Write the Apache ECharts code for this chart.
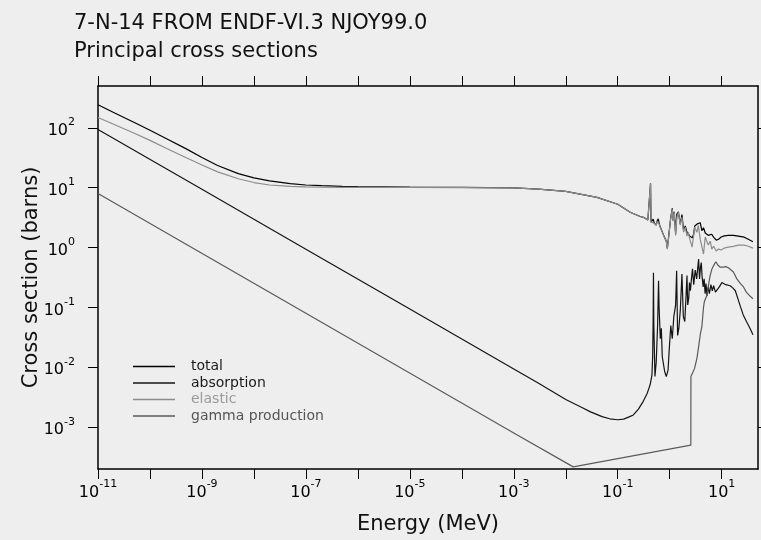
<!DOCTYPE html>
<html>
<head>
<meta charset="utf-8">
<title>7-N-14 principal cross sections</title>
<script src="https://cdn.jsdelivr.net/npm/echarts@6/dist/echarts.min.js"></script>
<style>
  html, body { margin: 0; padding: 0; background: #eeeeee; }
  #chart { width: 761px; height: 540px; }
</style>
</head>
<body>
<div id="chart"></div>
<script>
// ---- Cross-section data (energies in MeV, cross sections in barns) ----

// Shared energy grid for total and elastic
const scatterEnergy = [
  1e-11, 2e-11, 5e-11, 1e-10, 2e-10, 5e-10, 1e-9, 2e-9, 5e-9, 1e-8,
  2e-8, 5e-8, 1e-7, 2e-7, 5e-7, 1e-6, 1e-5, 1e-4, 1e-3, 3e-3,
  1e-2, 0.04, 0.1, 0.174, 0.27, 0.31, 0.38, 0.415, 0.428, 0.437,
  0.461, 0.482, 0.503, 0.551, 0.575, 0.602, 0.629, 0.658, 0.719, 0.786,
  0.859, 0.9, 0.96, 1.04, 1.12, 1.17, 1.224, 1.30, 1.37, 1.47,
  1.597, 1.72, 1.85, 1.99, 2.15, 2.276, 2.43, 2.7, 2.89, 3.03,
  3.34, 3.55, 3.87, 4.16, 4.47, 4.83, 5.2, 5.52, 6.03, 6.45,
  6.98, 7.87, 8.71, 9.8, 11.2, 13.4, 16.8, 20.9, 27.2, 32.5,
  40
];
const totalXS = [
  243, 181, 123, 91, 67, 44.5, 32, 23.5, 17.2, 14.6,
  13.0, 11.7, 11.1, 10.8, 10.5, 10.4, 10.2, 10.1, 9.9, 9.5,
  8.7, 6.9, 5.3, 3.9, 3.3, 3.2, 2.9, 2.8, 11.8, 2.66,
  2.77, 2.98, 2.57, 2.37, 2.8, 3.03, 2.5, 2.22, 1.83, 1.51,
  1.29, 0.97, 1.6, 3.02, 4.53, 2.8, 3.95, 1.7, 3.62, 3.95,
  2.45, 3.57, 1.95, 2.3, 1.81, 1.95, 1.57, 1.45, 1.67, 2.3,
  2.46, 2.6, 2.6, 1.91, 2.15, 1.75, 1.81, 1.6, 1.57, 1.67,
  1.49, 1.33, 1.38, 1.5, 1.57, 1.6, 1.6, 1.55, 1.49, 1.38,
  1.25
];
const elasticXS = [
  149, 115, 81, 61.7, 46.2, 31.6, 24.0, 18.4, 14.1, 12.2,
  11.1, 10.5, 10.3, 10.2, 10.1, 10.1, 10.1, 10.0, 9.9, 9.5,
  8.7, 6.9, 5.3, 3.9, 3.3, 3.2, 2.9, 2.8, 11.8, 2.65,
  2.75, 2.6, 2.55, 2.36, 2.75, 2.75, 2.45, 2.19, 1.81, 1.5,
  1.28, 0.944, 1.55, 2.97, 4.36, 2.75, 3.89, 1.6, 3.21, 3.89,
  2.36, 3.21, 1.81, 2.19, 1.55, 1.81, 1.38, 1.02, 1.6, 2.19,
  1.81, 2.36, 1.38, 1.28, 0.78, 1.5, 1.55, 1.10, 1.28, 0.944,
  1.05, 0.875, 0.944, 0.91, 0.98, 1.02, 1.05, 1.10, 1.10, 1.05,
  0.98
];

const absorptionEnergy = [
  1e-11, 1e-9, 1e-7, 1e-5, 1e-3, 3e-3, 1e-2, 0.02, 0.03, 0.05,
  0.07, 0.1, 0.13, 0.17, 0.2, 0.25, 0.31, 0.37, 0.42, 0.455,
  0.47, 0.48, 0.487, 0.495, 0.52, 0.55, 0.585, 0.61, 0.625, 0.66,
  0.69, 0.72, 0.80, 0.86, 0.93, 0.98, 1.05, 1.12, 1.2, 1.3,
  1.36, 1.42, 1.5, 1.6, 1.72, 1.83, 1.95, 2.06, 2.15, 2.22,
  2.32, 2.4, 2.5, 2.62, 2.75, 2.9, 3.1, 3.3, 3.6, 3.75,
  3.9, 4.05, 4.2, 4.4, 4.6, 4.8, 5.0, 5.2, 5.5, 5.8,
  6.2, 6.6, 7.0, 7.6, 8.1, 9.0, 10.1, 12, 14.6, 16.5,
  18.3, 20.5, 22.8, 26, 30, 35, 40
];
const absorptionXS = [
  94, 9.4, 0.94, 0.094, 9.4e-3, 5.4e-3, 2.9e-3, 2.15e-3, 1.8e-3, 1.5e-3,
  1.38e-3, 1.33e-3, 1.36e-3, 1.5e-3, 1.6e-3, 2.0e-3, 2.7e-3, 3.7e-3, 5.1e-3, 7.4e-3,
  0.015, 0.06, 0.38, 0.05, 0.007, 0.012, 0.05, 0.28, 0.1, 0.03,
  0.045, 0.015, 0.0085, 0.007, 0.009, 0.02, 0.05, 0.03, 0.07, 0.11,
  0.41, 0.034, 0.045, 0.09, 0.36, 0.07, 0.058, 0.15, 0.34, 0.11,
  0.14, 0.26, 0.19, 0.3, 0.44, 0.24, 0.42, 0.3, 0.64, 0.3,
  0.46, 0.56, 0.33, 0.22, 0.3, 0.17, 0.25, 0.156, 0.22, 0.17,
  0.24, 0.19, 0.23, 0.18, 0.19, 0.22, 0.26, 0.24, 0.23, 0.21,
  0.19, 0.14, 0.105, 0.075, 0.058, 0.045, 0.035
];

const gammaEnergy = [
  1e-11, 1e-7, 1e-3, 0.0139, 2.55, 2.56, 2.75, 3.0, 3.34, 3.6,
  3.87, 4.16, 4.47, 4.63, 5.2, 5.6, 6.0, 6.5, 7.0, 7.7,
  8.6, 9.4, 10.9, 12, 13.5, 14.6, 16.8, 19.6, 23, 26.3,
  29.8, 35, 40
];
const gammaXS = [
  8.0, 0.08, 8e-4, 2.17e-4, 5.0e-4, 7.0e-3, 8.0e-3, 9.5e-3, 0.0141, 0.022,
  0.035, 0.048, 0.1, 0.124, 0.16, 0.24, 0.34, 0.44, 0.5, 0.58,
  0.5, 0.47, 0.47, 0.48, 0.46, 0.44, 0.39, 0.30, 0.25, 0.22,
  0.18, 0.155, 0.14
];

// Axis ranges and decade ticks (as powers of ten)
const energyRange = [1e-11, 50];
const xsRange = [2e-4, 500];
const energyTickExps = [-11, -10, -9, -8, -7, -6, -5, -4, -3, -2, -1, 0, 1];
const energyLabelExps = [-11, -9, -7, -5, -3, -1, 1];
const xsTickExps = [-3, -2, -1, 0, 1, 2];

const seriesNames = ['total', 'absorption', 'elastic', 'gamma production'];
const seriesColors = ['#000000', '#141414', '#8c8c8c', '#5a5a5a'];
const legendTextColors = ['#1a1a1a', '#1a1a1a', '#9a9a9a', '#555555'];

// ---- Chart ----
const FONT = 'DejaVu Sans';
const log10 = Math.log10;
const toLogPairs = (es, vs) => es.map((e, i) => [log10(e), log10(vs[i])]);

const powerLabel = v => '{b|10}{s|' + Math.round(v) + '}';
const powerRich = {
  b: { fontFamily: FONT, fontSize: 16, color: '#000', padding: [6, 0, 0, 0], verticalAlign: 'bottom' },
  s: { fontFamily: FONT, fontSize: 11, color: '#000', verticalAlign: 'top' }
};

function energyAxis(position, withLabels) {
  return {
    type: 'value', position: position, gridIndex: 0,
    min: log10(energyRange[0]), max: log10(energyRange[1]),
    splitLine: { show: false },
    axisLine: { show: true, onZero: false, lineStyle: { color: '#000', width: 1.5 } },
    axisTick: { show: true, inside: false, length: 10, customValues: energyTickExps,
                lineStyle: { color: '#000', width: 1 } },
    axisLabel: withLabels ? {
      show: true, customValues: energyLabelExps, margin: 10,
      formatter: powerLabel, rich: powerRich
    } : { show: false },
    name: withLabels ? 'Energy (MeV)' : '',
    nameLocation: 'middle', nameGap: 45, nameMoveOverlap: false,
    nameTextStyle: { fontFamily: FONT, fontSize: 21, color: '#111' }
  };
}

function xsAxis(position, withLabels) {
  return {
    type: 'value', position: position, gridIndex: 0,
    min: log10(xsRange[0]), max: log10(xsRange[1]),
    splitLine: { show: false },
    axisLine: { show: true, onZero: false, lineStyle: { color: '#000', width: 1.5 } },
    axisTick: { show: true, inside: false, length: 10, customValues: xsTickExps,
                lineStyle: { color: '#000', width: 1 } },
    axisLabel: withLabels ? {
      show: true, customValues: xsTickExps, margin: 23,
      formatter: powerLabel, rich: powerRich
    } : { show: false },
    name: withLabels ? 'Cross section (barns)' : '',
    nameLocation: 'middle', nameGap: 56, nameRotate: 90, nameMoveOverlap: false,
    nameTextStyle: { fontFamily: FONT, fontSize: 21, color: '#111' }
  };
}

const seriesData = [
  toLogPairs(scatterEnergy, totalXS),
  toLogPairs(absorptionEnergy, absorptionXS),
  toLogPairs(scatterEnergy, elasticXS),
  toLogPairs(gammaEnergy, gammaXS)
];

const chart = echarts.init(document.getElementById('chart'), null, { renderer: 'canvas' });
chart.setOption({
  animation: false,
  backgroundColor: '#eeeeee',
  title: {
    text: '7-N-14 FROM ENDF-VI.3 NJOY99.0\nPrincipal cross sections',
    left: 69, top: 5,
    textStyle: { fontFamily: FONT, fontSize: 21, fontWeight: 'normal', color: '#111', lineHeight: 28 }
  },
  grid: { left: 98, top: 86, width: 660, height: 385, containLabel: false },
  xAxis: [energyAxis('bottom', true), energyAxis('top', false)],
  yAxis: [xsAxis('left', true), xsAxis('right', false)],
  legend: {
    orient: 'vertical', left: 133, top: 359.5, padding: 0,
    icon: 'rect', itemWidth: 42, itemHeight: 1.3, itemGap: 2.5,
    selectedMode: false,
    data: seriesNames.map((n, i) => ({ name: n, textStyle: { color: legendTextColors[i] } })),
    textStyle: { fontFamily: FONT, fontSize: 14, lineHeight: 14, padding: [0, 0, 0, 11] }
  },
  series: seriesNames.map((n, i) => ({
    name: n, type: 'line', xAxisIndex: 0, yAxisIndex: 0,
    data: seriesData[i], symbol: 'none', smooth: false, clip: true,
    color: seriesColors[i],
    lineStyle: { color: seriesColors[i], width: 1.2 }
  }))
});
</script>
</body>
</html>
